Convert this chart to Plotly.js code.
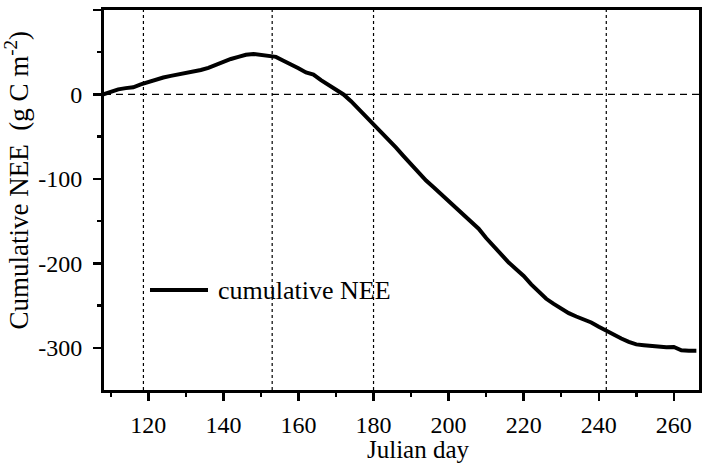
<!DOCTYPE html>
<html>
<head>
<meta charset="utf-8">
<script src="https://cdn.plot.ly/plotly-3.0.1.min.js"></script>
<style>
  html, body { margin: 0; padding: 0; background: #fff; }
  #chart { width: 702px; height: 463px; }
</style>
</head>
<body>
<div id="chart"></div>
<script>
// Julian day and cumulative NEE (g C m-2)
const days = [108,110,112,114,116,118,120,122,124,126,128,130,132,134,136,138,140,142,144,146,148,150,152,154,156,158,160,162,164,166,168,170,172,174,176,178,180,182,184,186,188,190,192,194,196,198,200,202,204,206,208,210,212,214,216,218,220,222,224,226,228,230,232,234,236,238,240,242,244,246,248,250,252,254,256,258,260,262,264,266];
const cumNEE = [0,3,6,7.5,8.5,12,15,17.5,20,22,23.5,25,27,29,31.5,35,39,42,44.5,47,48,46.5,45,44.5,40,36,31,26,23.5,17,11,6,0,-8,-17,-26,-35,-44,-53,-63,-73,-83,-93,-102,-110,-118,-127,-134,-142,-150,-159,-170,-180,-190,-199,-207,-215,-225,-234,-242,-248,-254,-259,-263,-266,-270,-275,-280,-285,-289,-293,-296,-297,-298,-299,-299.5,-299,-303,-303.5,-303.5];

// period boundaries (vertical dotted lines)
const boundaryDays = [118.7, 153, 180, 242];

// axis ticks
const xTickVals = [120,140,160,180,200,220,240,260];
const yTickVals = [-300,-200,-100,0,100];
const yTickText = ["-300","-200","-100","0","100"];
const yMinorVals = [-250,-150,-50,50];

const seriesName = "cumulative NEE";
const xTitle = "Julian day";
const yTitle = "Cumulative NEE  (g C m<sup>-2</sup>)";

const FONT = "Liberation Serif, Times New Roman, serif";

const trace = {
  x: days, y: cumNEE, type: "scatter", mode: "lines",
  name: seriesName,
  line: { color: "#000", width: 4 },
  showlegend: false
};

const shapes = boundaryDays.map(d => ({
  type: "line", xref: "x", yref: "paper",
  x0: d, x1: d, y0: 0, y1: 1,
  line: { color: "#000", width: 1.2, dash: "3px,3px" }
}));
shapes.push({
  type: "line", xref: "paper", yref: "y",
  x0: 0, x1: 1, y0: 0, y1: 0,
  line: { color: "#000", width: 1.2, dash: "7px,5px" }
});
// legend sample line
shapes.push({
  type: "line", xref: "paper", yref: "paper",
  x0: 0.0773, x1: 0.1748, y0: 0.263, y1: 0.263,
  line: { color: "#000", width: 4 }
});

const layout = {
  width: 702, height: 463,
  margin: { l: 104, r: 3, t: 10, b: 73 },
  paper_bgcolor: "#fff", plot_bgcolor: "#fff",
  font: { family: FONT, color: "#000", size: 24 },
  showlegend: false,
  xaxis: {
    range: [108.2, 266.7],
    tickmode: "array", tickvals: xTickVals,
    ticks: "outside", ticklen: 8, tickwidth: 2.5, tickcolor: "#000",
    minor: { tickmode: "linear", tick0: 110, dtick: 20, ticks: "outside", ticklen: 4, tickwidth: 2.5, tickcolor: "#000" },
    showline: true, linewidth: 3, linecolor: "#000", mirror: true,
    showgrid: false, zeroline: false,
    ticklabelstandoff: 3,
    tickfont: { family: FONT, size: 24, color: "#000" }
  },
  yaxis: {
    range: [-350, 100],
    tickmode: "array", tickvals: yTickVals, ticktext: yTickText,
    ticks: "outside", ticklen: 8, tickwidth: 2.5, tickcolor: "#000",
    minor: { tickmode: "array", tickvals: yMinorVals, ticks: "outside", ticklen: 4, tickwidth: 2.5, tickcolor: "#000" },
    showline: true, linewidth: 3, linecolor: "#000", mirror: true,
    showgrid: false, zeroline: false,
    ticklabelstandoff: 6,
    tickfont: { family: FONT, size: 24, color: "#000" }
  },
  yaxis2: {
    overlaying: "y", side: "right",
    range: [-350, 100],
    tickmode: "array", tickvals: yTickVals,
    ticks: "inside", ticklen: 8, tickwidth: 2.5, tickcolor: "#000",
    minor: { tickmode: "array", tickvals: yMinorVals, ticks: "inside", ticklen: 4, tickwidth: 2.5, tickcolor: "#000" },
    showticklabels: false, showline: false, showgrid: false, zeroline: false
  },
  shapes: shapes,
  annotations: [{
    xref: "paper", yref: "paper", x: 0.188, y: 0.263,
    xanchor: "left", yanchor: "middle", showarrow: false,
    text: seriesName, font: { family: FONT, size: 26, color: "#000" }
  }, {
    xref: "paper", yref: "paper", x: 0.528, y: 0, yshift: -59,
    xanchor: "center", yanchor: "middle", showarrow: false,
    text: xTitle, font: { family: FONT, size: 25, color: "#000" }
  }, {
    xref: "paper", yref: "paper", x: -0.147, y: 0.55,
    xanchor: "center", yanchor: "middle", showarrow: false, textangle: -90,
    text: yTitle, font: { family: FONT, size: 27, color: "#000" }
  }]
};

Plotly.newPlot("chart", [trace], layout, { staticPlot: true, displayModeBar: false });
</script>
</body>
</html>
